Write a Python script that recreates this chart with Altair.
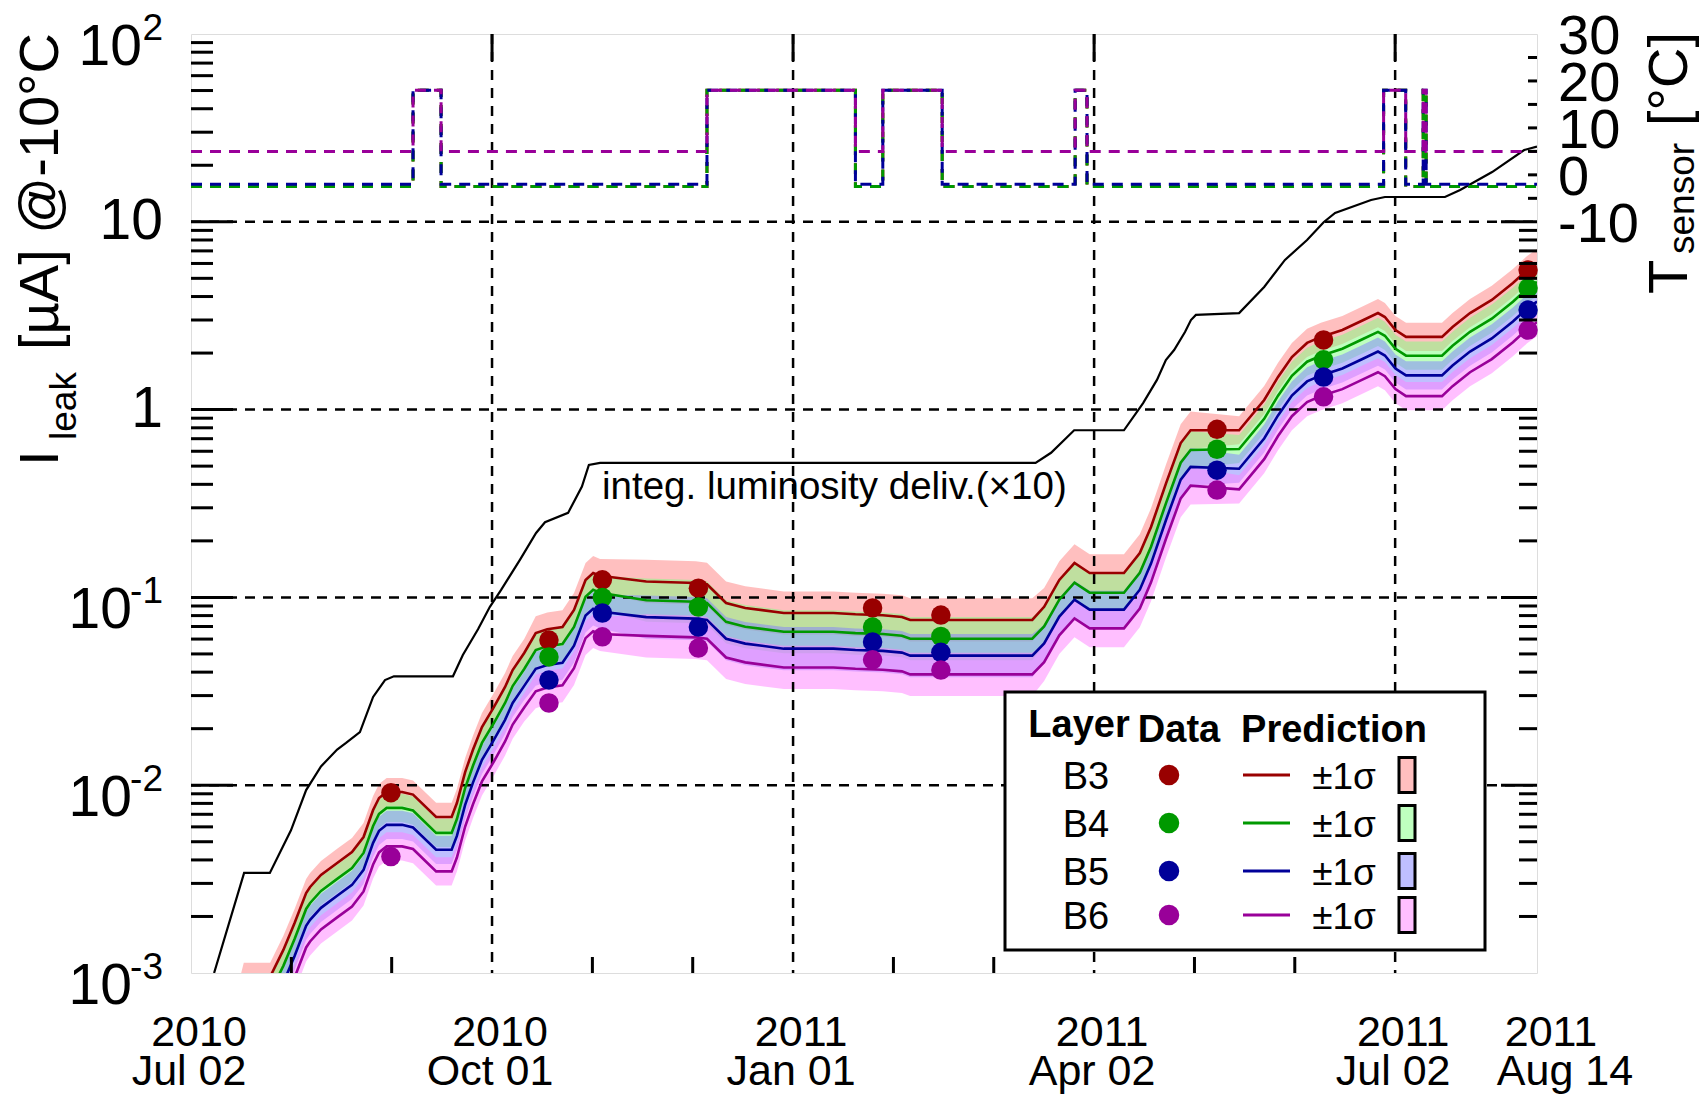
import altair as alt
import pandas as pd

# ------------------------------------------------------------------
# Values
# time axis: days since 2010-07-02
# ------------------------------------------------------------------
layers = ["B3", "B4", "B5", "B6"]

# prediction curves (log10 of I_leak in uA)
pred_days = [12, 16, 24, 28, 31.4, 34.9, 36.1, 39.4, 44.3, 48.8,
             52.3, 55.2, 57, 59.3, 64, 67.3, 74.3, 79, 80.6, 83.1,
             85.5, 88.2, 91.8, 95.2, 97.5, 101, 104.5, 108, 112.6, 116.1,
             119.6, 121.9, 124, 138, 153, 156.4, 162.2, 168, 179.7, 194.7,
             201.4, 209.7, 215.5, 218, 227.7, 255, 258.6, 263.2, 267.8, 272.4,
             282.8, 287.6, 291, 295.6, 300, 303, 317.7, 325.3, 329.5, 333.7,
             338.3, 342.5, 349, 355.4, 359.8, 361.9, 365.1, 368.3, 379.2, 382.4,
             387.7, 394.3, 400.7, 405, 408]

b3_pred_log10 = [-3.30, -3.02, -3.02, -2.877, -2.734, -2.574, -2.542, -2.478, -2.414, -2.356,
                 -2.276, -2.132, -2.068, -2.036, -2.036, -2.05, -2.169, -2.169, -2.095, -1.93,
                 -1.81, -1.69, -1.584, -1.477, -1.387, -1.296, -1.19, -1.17, -1.158, -1.067,
                 -0.907, -0.87, -0.885, -0.915, -0.923, -0.93, -1.03, -1.056, -1.083, -1.083,
                 -1.09, -1.095, -1.104, -1.12, -1.12, -1.12, -1.05, -0.907, -0.817, -0.87,
                 -0.87, -0.764, -0.625, -0.39, -0.178, -0.11, -0.11, 0.051, 0.174, 0.28,
                 0.355, 0.387, 0.424, 0.477, 0.514, 0.493, 0.424, 0.387, 0.387, 0.44,
                 0.514, 0.584, 0.674, 0.743, 0.78]
b4_pred_log10 = [-3.385, -3.105, -3.105, -2.962, -2.819, -2.659, -2.627, -2.563, -2.499, -2.441,
                 -2.361, -2.217, -2.153, -2.121, -2.121, -2.135, -2.254, -2.254, -2.18, -2.015,
                 -1.895, -1.775, -1.669, -1.562, -1.472, -1.381, -1.28, -1.26, -1.248, -1.157,
                 -0.997, -0.96, -0.975, -1.015, -1.023, -1.03, -1.13, -1.156, -1.183, -1.183,
                 -1.19, -1.195, -1.204, -1.22, -1.22, -1.22, -1.155, -1.012, -0.922, -0.975,
                 -0.975, -0.869, -0.73, -0.495, -0.283, -0.215, -0.21, -0.049, 0.074, 0.18,
                 0.255, 0.287, 0.324, 0.377, 0.414, 0.393, 0.324, 0.287, 0.287, 0.34,
                 0.414, 0.484, 0.574, 0.643, 0.68]
b5_pred_log10 = [-3.475, -3.195, -3.195, -3.052, -2.909, -2.749, -2.717, -2.653, -2.589, -2.531,
                 -2.451, -2.307, -2.243, -2.211, -2.211, -2.225, -2.344, -2.344, -2.27, -2.105,
                 -1.985, -1.865, -1.759, -1.652, -1.562, -1.471, -1.38, -1.36, -1.348, -1.257,
                 -1.097, -1.06, -1.075, -1.105, -1.113, -1.12, -1.22, -1.246, -1.273, -1.273,
                 -1.28, -1.285, -1.294, -1.31, -1.31, -1.31, -1.245, -1.102, -1.012, -1.065,
                 -1.065, -0.959, -0.82, -0.585, -0.373, -0.305, -0.315, -0.154, -0.031, 0.075,
                 0.15, 0.182, 0.219, 0.272, 0.309, 0.288, 0.219, 0.182, 0.182, 0.235,
                 0.309, 0.379, 0.469, 0.538, 0.575]
b6_pred_log10 = [-3.59, -3.31, -3.31, -3.167, -3.024, -2.864, -2.832, -2.768, -2.704, -2.646,
                 -2.566, -2.422, -2.358, -2.326, -2.326, -2.34, -2.459, -2.459, -2.385, -2.22,
                 -2.10, -1.98, -1.874, -1.767, -1.677, -1.586, -1.50, -1.48, -1.468, -1.377,
                 -1.217, -1.18, -1.195, -1.205, -1.213, -1.22, -1.32, -1.346, -1.373, -1.373,
                 -1.38, -1.385, -1.394, -1.41, -1.41, -1.41, -1.345, -1.202, -1.112, -1.165,
                 -1.165, -1.059, -0.92, -0.685, -0.473, -0.405, -0.425, -0.264, -0.141, -0.035,
                 0.04, 0.072, 0.109, 0.162, 0.199, 0.178, 0.109, 0.072, 0.072, 0.125,
                 0.199, 0.269, 0.359, 0.428, 0.465]
# half width of the +-1 sigma band (log10 units)
band_halfwidth_log10 = [0.075, 0.075, 0.075, 0.075, 0.075, 0.075, 0.075, 0.075, 0.075, 0.075,
                        0.075, 0.075, 0.075, 0.075, 0.075, 0.075, 0.075, 0.075, 0.075, 0.075,
                        0.075, 0.075, 0.075, 0.075, 0.075, 0.075, 0.09, 0.09, 0.09, 0.09,
                        0.09, 0.09, 0.09, 0.115, 0.115, 0.115, 0.115, 0.115, 0.115, 0.115,
                        0.115, 0.115, 0.115, 0.115, 0.115, 0.115, 0.10, 0.10, 0.10, 0.10,
                        0.10, 0.10, 0.10, 0.10, 0.10, 0.10, 0.075, 0.075, 0.075, 0.075,
                        0.075, 0.075, 0.075, 0.075, 0.075, 0.075, 0.075, 0.075, 0.075, 0.075,
                        0.075, 0.075, 0.075, 0.075, 0.075]

# measured data points (uA)
data_days = [60.6, 108.5, 124.7, 153.8, 206.6, 227.3, 311.0, 343.3, 405.3]
b3_data = [0.00912, 0.0593, 0.124, 0.112, 0.0879, 0.0805, 0.785, 2.35, 5.53]
b4_data = [None, 0.0482, 0.100, 0.0889, 0.0695, 0.0620, 0.615, 1.84, 4.44]
b5_data = [None, 0.0363, 0.0826, 0.0695, 0.0579, 0.0510, 0.476, 1.49, 3.39]
b6_data = [0.00417, 0.0274, 0.0617, 0.0537, 0.0465, 0.0410, 0.373, 1.17, 2.65]

# integrated delivered luminosity (x10), log10 on the current axis
lumi_days = [7, 16.1, 23.9, 30.3, 34.9, 39.4, 44.3, 47, 51.2, 55.2,
             58.8, 61.5, 79.4, 82.4, 87, 90.6, 94, 99.7, 104.6, 107.3,
             114.3, 118.5, 120.6, 124, 256, 260.7, 267.7, 282.8, 288.6, 292.8,
             295.5, 298, 301.3, 303.1, 304.6, 317.7, 325.3, 331.6, 338.3, 343.4,
             346.8, 357.7, 361.9, 380.1, 384.7, 394.4, 404.1, 408]
lumi_log10 = [-3.0, -2.467, -2.467, -2.24, -2.026, -1.90, -1.81, -1.775, -1.717, -1.53,
              -1.44, -1.42, -1.42, -1.307, -1.17, -1.05, -0.96, -0.80, -0.657, -0.60,
              -0.55, -0.41, -0.295, -0.284, -0.284, -0.23, -0.11, -0.11, 0.035, 0.158,
              0.264, 0.317, 0.413, 0.477, 0.504, 0.514, 0.653, 0.797, 0.903, 0.999,
              1.047, 1.116, 1.132, 1.132, 1.169, 1.265, 1.382, 1.40]

# sensor temperature (deg C), step changes
temp_days = [0, 67.3, 75.8, 156.4, 201.4, 209.7, 227.7, 268.0, 271.6, 361.5, 368.2, 373.5, 374.4, 408]
b3_temp = [-2.5, 18, -2.5, 18, -2.5, 18, -2.5, 18, -2.5, 18, -2.5, 18, -2.5, -2.5]
b4_temp = [-2.5, 18, -2.5, 18, -2.5, 18, -2.5, 18, -2.5, 18, -2.5, 18, -2.5, -2.5]
b5_temp = [-2.0, 18, -2.0, 18, -2.0, 18, -2.0, 18, -2.0, 18, -2.0, 18, -2.0, -2.0]
b6_temp = [5.0, 18, 5.0, 18, 5.0, 18, 5.0, 18, 5.0, 18, 5.0, 18, 5.0, 5.0]

# axis texts
xlabel_days = [0, 91.25, 182.5, 273.75, 365, 408]
xlabel_year = ["2010", "2010", "2011", "2011", "2011", "2011"]
xlabel_monthday = ["Jul 02", "Oct 01", "Jan 01", "Apr 02", "Jul 02", "Aug 14"]
grid_days = [91.25, 182.5, 273.75, 365]
minor_days = [30.42, 60.83, 121.67, 152.08, 212.92, 243.33, 304.17, 334.58]
ylabel_values = [100, 10, 1, 0.1, 0.01, 0.001]
ylabel_base = ["10", "10", "1", "10", "10", "10"]
ylabel_sup = ["2", "", "", "-1", "-2", "-3"]
tlabel_values = [-10, 0, 10, 20, 30]
tlabel_text = ["-10", "0", "10", "20", "30"]
ttick_values = [-5, 0, 5, 10, 15, 20, 25]

# ------------------------------------------------------------------
W, H = 1346, 939
FONT = "Liberation Sans"
line_colors = {"B3": "#990000", "B4": "#009900", "B5": "#000099", "B6": "#990099"}
band_colors = {"B3": "#ff7f7f", "B4": "#7fff7f", "B5": "#7f7fff", "B6": "#ff7fff"}

xs = alt.Scale(domain=[0, 408], nice=False, zero=False)
ys = alt.Scale(type="log", domain=[0.001, 100], nice=False)
ts = alt.Scale(domain=[-170, 30], nice=False, zero=False)


def X(f):
    return alt.X(f"{f}:Q", scale=xs, axis=None)


def Y(f):
    return alt.Y(f"{f}:Q", scale=ys, axis=None)


def TY(f):
    return alt.Y(f"{f}:Q", scale=ts, axis=None)


one = pd.DataFrame({"a": [0]})


def txt(s, x, y, size, angle=0, align="left", weight="normal"):
    kw = dict(text=s, fontSize=size, font=FONT, align=align, baseline="alphabetic",
              color="black", fontWeight=weight)
    if angle:
        kw["angle"] = angle
    return alt.Chart(one).mark_text(**kw).encode(x=alt.value(x), y=alt.value(y))


pred_log = {"B3": b3_pred_log10, "B4": b4_pred_log10, "B5": b5_pred_log10, "B6": b6_pred_log10}
data_vals = {"B3": b3_data, "B4": b4_data, "B5": b5_data, "B6": b6_data}
temp_vals = {"B3": b3_temp, "B4": b4_temp, "B5": b5_temp, "B6": b6_temp}

pred_frames = {}
for L in layers:
    pred_frames[L] = pd.DataFrame({
        "day": pred_days,
        "v": [10 ** g for g in pred_log[L]],
        "lo": [10 ** (g - h) for g, h in zip(pred_log[L], band_halfwidth_log10)],
        "hi": [10 ** (g + h) for g, h in zip(pred_log[L], band_halfwidth_log10)],
    })

bands = [alt.Chart(pred_frames[L]).mark_area(color=band_colors[L], opacity=0.5, clip=True)
         .encode(x=X("day"), y=Y("lo"), y2="hi:Q") for L in layers]

dash = [10, 8]
vgrid = alt.Chart(pd.DataFrame({"day": grid_days})).mark_rule(
    color="black", strokeWidth=2.5, strokeDash=dash).encode(x=X("day"), y=alt.value(0), y2=alt.value(H))
hgrid = alt.Chart(pd.DataFrame({"v": [0.01, 0.1, 1, 10]})).mark_rule(
    color="black", strokeWidth=2.5, strokeDash=dash).encode(y=Y("v"), x=alt.value(0), x2=alt.value(W))

lines = [alt.Chart(pred_frames[L]).mark_line(color=line_colors[L], strokeWidth=2.6, clip=True)
         .encode(x=X("day"), y=Y("v")) for L in layers]

dots = []
for L in layers:
    d = pd.DataFrame({"day": data_days, "v": data_vals[L]}).dropna()
    dots.append(alt.Chart(d).mark_circle(size=380, opacity=1, color=line_colors[L])
                .encode(x=X("day"), y=Y("v")))

lumi = alt.Chart(pd.DataFrame({"day": lumi_days, "v": [10 ** g for g in lumi_log10]})).mark_line(
    color="black", strokeWidth=2.2, clip=True).encode(x=X("day"), y=Y("v"))

# ticks
minor_log, major_log = [], []
for e in range(-3, 2):
    for k in range(2, 10):
        minor_log.append(k * 10.0 ** e)
for e in range(-2, 2):
    major_log.append(10.0 ** e)
minor_low = [v for v in minor_log if v < 10]


def hticks(vals, x0, x1, scale_enc):
    return alt.Chart(pd.DataFrame({"v": vals})).mark_rule(color="black", strokeWidth=3).encode(
        y=scale_enc("v"), x=alt.value(x0), x2=alt.value(x1))


ticks = [
    hticks(minor_log, 0, 22, Y),
    hticks(major_log, 0, 42, Y),
    hticks(minor_low, W - 18, W, Y),
    hticks(major_log, W - 36, W, Y),
    alt.Chart(pd.DataFrame({"day": minor_days})).mark_rule(color="black", strokeWidth=3).encode(
        x=X("day"), y=alt.value(H - 16), y2=alt.value(H)),
    alt.Chart(pd.DataFrame({"day": grid_days})).mark_rule(color="black", strokeWidth=3).encode(
        x=X("day"), y=alt.value(0), y2=alt.value(27)),
]

# left labels (10^n with superscripts)
ylab = pd.DataFrame({"v": ylabel_values, "base": ylabel_base, "sup": ylabel_sup})
ylab_style = dict(font=FONT, align="right", baseline="alphabetic", color="black")
left_labels = [
    alt.Chart(ylab).transform_filter("datum.sup == ''").mark_text(fontSize=57, dy=17, **ylab_style)
    .encode(y=Y("v"), x=alt.value(-28), text="base:N"),
    alt.Chart(ylab).transform_filter("length(datum.sup) == 1").mark_text(fontSize=57, dy=31, **ylab_style)
    .encode(y=Y("v"), x=alt.value(-49), text="base:N"),
    alt.Chart(ylab).transform_filter("length(datum.sup) == 2").mark_text(fontSize=57, dy=31, **ylab_style)
    .encode(y=Y("v"), x=alt.value(-59), text="base:N"),
    alt.Chart(ylab).transform_filter("datum.sup != ''").mark_text(fontSize=37, dy=6, **ylab_style)
    .encode(y=Y("v"), x=alt.value(-28), text="sup:N"),
]

# bottom labels
xlab = pd.DataFrame({"day": xlabel_days, "year": xlabel_year, "md": xlabel_monthday})
xl_style = dict(font=FONT, fontSize=43, align="center", baseline="alphabetic", color="black")
bottom_labels = [
    alt.Chart(xlab).transform_filter("datum.day < 400").mark_text(dx=8, **xl_style)
    .encode(x=X("day"), y=alt.value(1012), text="year:N"),
    alt.Chart(xlab).transform_filter("datum.day < 400").mark_text(dx=-2, **xl_style)
    .encode(x=X("day"), y=alt.value(1051), text="md:N"),
    alt.Chart(xlab).transform_filter("datum.day >= 400").mark_text(dx=14, **xl_style)
    .encode(x=X("day"), y=alt.value(1012), text="year:N"),
    alt.Chart(xlab).transform_filter("datum.day >= 400").mark_text(dx=28, **xl_style)
    .encode(x=X("day"), y=alt.value(1051), text="md:N"),
]

titles = [
    txt("I", -133, 432, 56, angle=270),
    txt("leak", -115, 406, 37, angle=270),
    txt("[µA] @-10°C", -133, 316, 56, angle=270),
    txt("T", 1496, 260, 56, angle=270),
    txt("sensor", 1503, 220, 37, angle=270),
    txt("[°C]", 1496, 92, 56, angle=270),
    txt("integ. luminosity deliv.(×10)", 411, 465, 38.5),
]

# legend
legend = [alt.Chart(one).mark_rect(fill="white", stroke="black", strokeWidth=3).encode(
    x=alt.value(814), x2=alt.value(1294), y=alt.value(658), y2=alt.value(916))]
legend += [
    txt("Layer", 888, 703, 38, align="center", weight="bold"),
    txt("Data", 988, 708, 38, align="center", weight="bold"),
    txt("Prediction", 1143, 708, 38, align="center", weight="bold"),
]
row_y = [741, 789, 837, 881]
for L, yr in zip(layers, row_y):
    legend += [
        txt(L, 895, yr + 13.5, 38, align="center"),
        alt.Chart(one).mark_circle(size=420, opacity=1, color=line_colors[L]).encode(
            x=alt.value(978), y=alt.value(yr)),
        alt.Chart(one).mark_rule(color=line_colors[L], strokeWidth=3).encode(
            x=alt.value(1052), x2=alt.value(1099), y=alt.value(yr)),
        txt("±1σ", 1153, yr + 13.5, 37, align="center"),
        alt.Chart(one).mark_rect(fill=band_colors[L], fillOpacity=0.5, stroke="black", strokeWidth=3)
        .encode(x=alt.value(1208), x2=alt.value(1224), y=alt.value(yr - 17.5), y2=alt.value(yr + 17.5)),
    ]

current_group = alt.layer(*bands, vgrid, hgrid, *lines, *dots, lumi, *ticks,
                          *left_labels, *bottom_labels, *titles, *legend)

# temperature group (right axis)
temp_lines = []
for L in layers:
    d = pd.DataFrame({"day": temp_days, "t": temp_vals[L]})
    temp_lines.append(alt.Chart(d).mark_line(color=line_colors[L], strokeWidth=3, strokeDash=[11, 8],
                                             interpolate="step-after")
                      .encode(x=X("day"), y=TY("t")))
t_ticks = alt.Chart(pd.DataFrame({"t": ttick_values})).mark_rule(color="black", strokeWidth=3).encode(
    y=TY("t"), x=alt.value(W - 9), x2=alt.value(W))
t_labels = alt.Chart(pd.DataFrame({"t": tlabel_values, "lab": tlabel_text})).mark_text(
    font=FONT, fontSize=56, align="left", baseline="alphabetic", dy=20, color="black").encode(
    y=TY("t"), x=alt.value(W + 21), text="lab:N")
temp_group = alt.layer(*temp_lines, t_ticks, t_labels)

chart = alt.layer(current_group, temp_group).resolve_scale(y="independent").properties(
    width=W, height=H,
    padding={"left": 183, "top": 26, "right": 163, "bottom": 121},
    autosize=alt.AutoSizeParams(type="none"),
    background="white",
).configure_view(stroke="black", strokeWidth=3).configure(font=FONT)

chart.save("out.html", embed_options={"renderer": "svg", "actions": False})
